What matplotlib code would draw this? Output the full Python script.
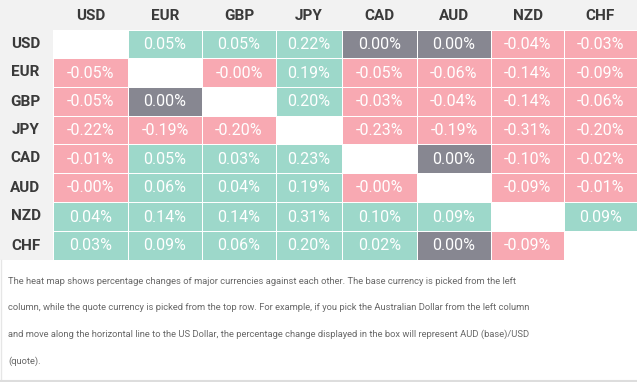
import numpy as np
import matplotlib as ml
ml.use('Agg')
import matplotlib.pyplot as plt
from matplotlib.colors import ListedColormap
from matplotlib.patches import Rectangle

# data: rows = base currency, cols = quote currency (nan on the diagonal)
currencies = ["USD", "EUR", "GBP", "JPY", "CAD", "AUD", "NZD", "CHF"]
nan = np.nan
usd = [nan, 0.05, 0.05, 0.22, 0.00, 0.00, -0.04, -0.03]
eur = [-0.05, nan, -0.00, 0.19, -0.05, -0.06, -0.14, -0.09]
gbp = [-0.05, 0.00, nan, 0.20, -0.03, -0.04, -0.14, -0.06]
jpy = [-0.22, -0.19, -0.20, nan, -0.23, -0.19, -0.31, -0.20]
cad = [-0.01, 0.05, 0.03, 0.23, nan, 0.00, -0.10, -0.02]
aud = [-0.00, 0.06, 0.04, 0.19, -0.00, nan, -0.09, -0.01]
nzd = [0.04, 0.14, 0.14, 0.31, 0.10, 0.09, nan, 0.09]
chf = [0.03, 0.09, 0.06, 0.20, 0.02, 0.00, -0.09, nan]
note_lines = [
    "The heat map shows percentage changes of major currencies against each other. The base currency is picked from the left",
    "column, while the quote currency is picked from the top row. For example, if you pick the Australian Dollar from the left column",
    "and move along the horizontal line to the US Dollar, the percentage change displayed in the box will represent AUD (base)/USD",
    "(quote).",
]

vals = np.array([usd, eur, gbp, jpy, cad, aud, nzd, chf])

# layout in pixels
W, H = 637, 382
col_edges = [53, 128, 202, 276, 342, 417, 491, 564, 637]
row_edges = [30, 58, 87, 116, 144, 173, 202, 231, 260]

teal = '#9dd8ca'
pink = '#f8a9b2'
grey = '#878791'
bg = '#f2f2f2'

# category: 0 = negative (incl. -0.00), 1 = zero, 2 = positive
cat = np.where(np.signbit(vals), 0, np.where(vals == 0, 1, 2)).astype(float)
cat = np.ma.masked_where(np.isnan(vals), cat)

plt.rcParams['font.family'] = ['Roboto', 'DejaVu Sans']
fig = plt.figure(figsize=(W / 100, H / 100), dpi=100)
fig.patch.set_facecolor('white')
ax = fig.add_axes([0, 0, 1, 1])
ax.set_xlim(0, W)
ax.set_ylim(H, 0)
ax.axis('off')

# grey header band and label column
ax.add_patch(Rectangle((0, 0), W, row_edges[0], color=bg, lw=0, zorder=0))
ax.add_patch(Rectangle((0, 0), col_edges[0], row_edges[-1], color=bg, lw=0, zorder=0))

ax.pcolormesh(col_edges, row_edges, cat, cmap=ListedColormap([pink, grey, teal]),
              vmin=-0.5, vmax=2.5, edgecolors='white', linewidth=0.6, zorder=1)

xc = [(a + b) / 2 for a, b in zip(col_edges[:-1], col_edges[1:])]
yc = [(a + b) / 2 for a, b in zip(row_edges[:-1], row_edges[1:])]

for j, c in enumerate(currencies):
    ax.text(xc[j], row_edges[0] / 2 + 1, c, ha='center', va='center',
            fontsize=11, fontweight='bold', color='#3a3a3a', zorder=3)
    ax.text(col_edges[0] / 2 - 1, yc[j], c, ha='center', va='center',
            fontsize=11, fontweight='bold', color='#3a3a3a', zorder=3)

for i in range(len(currencies)):
    for j in range(len(currencies)):
        v = vals[i, j]
        if np.isnan(v):
            continue
        ax.text(xc[j], yc[i] + 0.5, "%.2f%%" % v, ha='center', va='center',
                fontsize=11.5, fontweight='normal', color='white', zorder=3)

# note box under the table
ax.plot([0.5, 0.5], [row_edges[-1], H], color='#e6e6e6', lw=1, zorder=2)
ax.plot([0, W], [H - 1.5, H - 1.5], color='#dddddd', lw=1.5, zorder=2)
for k, line in enumerate(note_lines):
    ax.text(8, 281 + k * 26.7, line, ha='left', va='center',
            fontsize=6.75, color='#686868', zorder=3)

fig.savefig('out.png', dpi=100, facecolor=fig.get_facecolor())
